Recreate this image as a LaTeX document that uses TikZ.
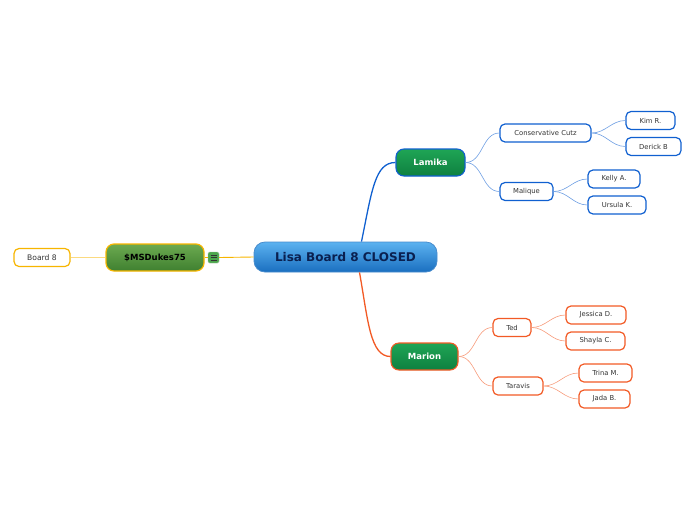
\documentclass[tikz,border=0pt]{standalone}
\usepackage{fontspec}
\setmainfont{DejaVu Sans}
\usepackage{xcolor}
\usepackage{tikz}
\usetikzlibrary{calc,positioning}

\definecolor{mapblue}{HTML}{1060D0}
\definecolor{maporange}{HTML}{F25A25}
\definecolor{mapyellow}{HTML}{F7B500}
\definecolor{mapgreen}{HTML}{1FA555}
\definecolor{mapgreendark}{HTML}{0E8040}
\definecolor{roottop}{HTML}{5CB2F0}
\definecolor{rootmid}{HTML}{2C90E0}
\definecolor{rootbottom}{HTML}{1A6FC0}
\definecolor{rootink}{HTML}{0A2050}
\definecolor{dukestop}{HTML}{6CAA50}
\definecolor{dukesbottom}{HTML}{3F8030}

\begin{document}
\begin{tikzpicture}[x=1pt, y=-1pt,
  central/.style = {draw=rootbottom!80, line width=0.8pt, rounded corners=11pt, top color=roottop, middle color=rootmid, bottom color=rootbottom, text=rootink, font=\bfseries\fontsize{12}{12}\selectfont, minimum width=183pt, minimum height=30pt},
  main/.style args = {#1,#2}{draw=#1, line width=1.1pt, rounded corners=8pt, top color=mapgreen, bottom color=mapgreendark, text=white, font=\bfseries\fontsize{8.5}{8.5}\selectfont, minimum width=#2, minimum height=27pt},
  leaf/.style args = {#1,#2}{draw=#1, line width=1.2pt, rounded corners=5pt, fill=white, text=black!80, font=\fontsize{6.8}{6.8}\selectfont, minimum width=#2, minimum height=18pt, inner sep=1pt},
  branch/.style = {#1, line width=1.3pt},
  twig/.style = {#1!60, line width=0.6pt}]
\useasboundingbox (0,0) rectangle (696,520);

% centre and left side
\node (root) [central] at (345.5,257) {Lisa Board 8 CLOSED};
\node (dukes) [draw=mapyellow, line width=1.2pt, rounded corners=8pt, top color=dukestop, bottom color=dukesbottom, text=black, font=\bfseries\fontsize{8.5}{8.5}\selectfont, minimum width=98pt, minimum height=27pt] at (155,257.5) {\$MSDukes75};
\node (note) [fill=green!50!black!70, draw=green!40!black!40, rounded corners=1.5pt, minimum size=11pt, inner sep=0pt] at (213.5,257.5) {};
\foreach \dy in {-2.5,0,2.5}
  \draw[black!80, line width=0.6pt] ($(note.center)+(-3,\dy)$) -- ($(note.center)+(3,\dy)$);
\node (board) [leaf={mapyellow,56pt}, font=\fontsize{7.6}{7.6}\selectfont] at (42,257.5) {Board 8};

\draw[mapyellow, line width=0.9pt] (note.east) -- (root.west);
\draw[mapyellow, line width=0.9pt] (dukes.east) -- (note.west);
\draw[mapyellow!50, line width=0.8pt] (dukes.west) to[out=180,in=0] (board.east);

% upper branch
\node (lamika) [main={mapblue,69pt}] at (430.5,162.5) {Lamika};
\node (cutz) [leaf={mapblue,91pt}] at (545.5,133) {Conservative Cutz};
\node (kim) [leaf={mapblue,49pt}] at (650.5,120.5) {Kim R.};
\node (derick) [leaf={mapblue,55pt}] at (653.5,146.5) {Derick B};
\node (malique) [leaf={mapblue,53pt}] at (526.5,191.5) {Malique};
\node (kelly) [leaf={mapblue,52pt}] at (614,179) {Kelly A.};
\node (ursula) [leaf={mapblue,58pt}] at (617,205) {Ursula K.};

\draw[branch=mapblue] ($(root.north)+(16,0)$) .. controls (372,190) and (375,162.5) .. (lamika.west);
\draw[twig=mapblue] (lamika.east) to[out=0,in=180] (cutz.west);
\draw[twig=mapblue] (lamika.east) to[out=0,in=180] (malique.west);
\draw[twig=mapblue] (cutz.east) to[out=0,in=180] (kim.west);
\draw[twig=mapblue] (cutz.east) to[out=0,in=180] (derick.west);
\draw[twig=mapblue] (malique.east) to[out=0,in=180] (kelly.west);
\draw[twig=mapblue] (malique.east) to[out=0,in=180] (ursula.west);

% lower branch
\node (marion) [main={maporange,67pt}] at (424.5,356.5) {Marion};
\node (ted) [leaf={maporange,38pt}] at (512,327.5) {Ted};
\node (jessica) [leaf={maporange,60pt}] at (596,315) {Jessica D.};
\node (shayla) [leaf={maporange,59pt}] at (595.5,341) {Shayla C.};
\node (taravis) [leaf={maporange,50pt}] at (518,386) {Taravis};
\node (trina) [leaf={maporange,53pt}] at (605.5,373) {Trina M.};
\node (jada) [leaf={maporange,51pt}] at (604.5,399) {Jada B.};

\draw[branch=maporange] ($(root.south)+(14,0)$) .. controls (368,320) and (370,356.5) .. (marion.west);
\draw[twig=maporange] (marion.east) to[out=0,in=180] (ted.west);
\draw[twig=maporange] (marion.east) to[out=0,in=180] (taravis.west);
\draw[twig=maporange] (ted.east) to[out=0,in=180] (jessica.west);
\draw[twig=maporange] (ted.east) to[out=0,in=180] (shayla.west);
\draw[twig=maporange] (taravis.east) to[out=0,in=180] (trina.west);
\draw[twig=maporange] (taravis.east) to[out=0,in=180] (jada.west);
\end{tikzpicture}
\end{document}
